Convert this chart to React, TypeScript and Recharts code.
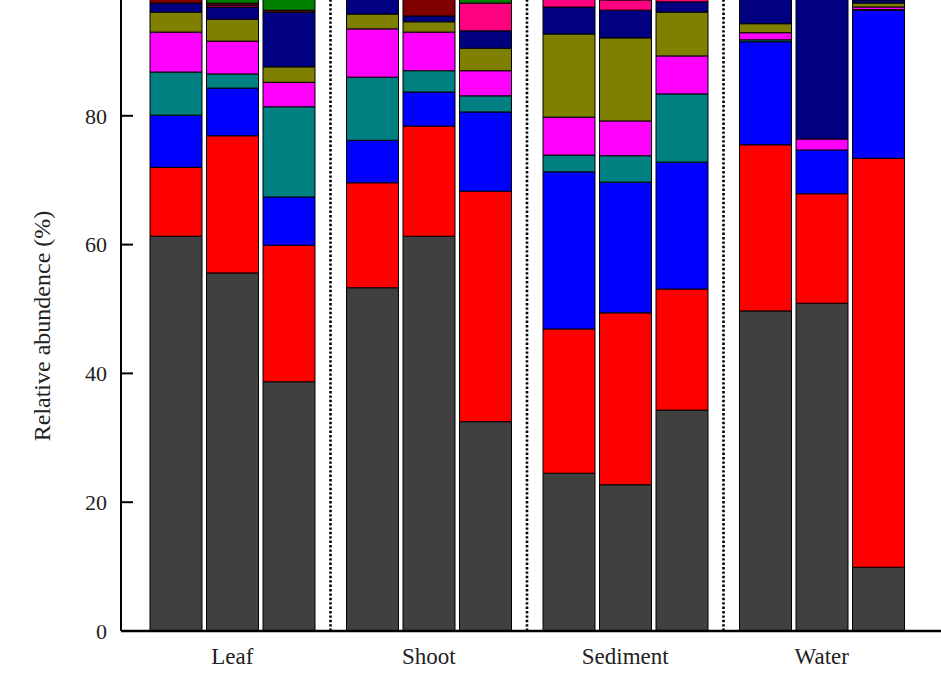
import React from 'react';
import { BarChart, Bar, XAxis, YAxis, ReferenceLine } from 'recharts';

const categories = ['Leaf', 'Shoot', 'Sediment', 'Water'];
const replicates = ['r1', 'r2', 'r3'];
const yTicks = [0, 20, 40, 60, 80];
const yLabel = 'Relative abundence (%)';
const separators = ['Shoot', 'Sediment', 'Water'];

// values per bar, order: Leaf 1-3, Shoot 1-3, Sediment 1-3, Water 1-3
const taxon01 = [61.3, 55.6, 38.7, 53.3, 61.3, 32.5, 24.5, 22.7, 34.3, 49.7, 50.9, 9.9];
const taxon02 = [10.7, 21.3, 21.2, 16.3, 17.1, 35.8, 22.4, 26.7, 18.8, 25.8, 17.0, 63.5];
const taxon03 = [8.1, 7.4, 7.5, 6.6, 5.3, 12.3, 24.4, 20.3, 19.7, 16.0, 6.8, 23.0];
const taxon04 = [6.7, 2.2, 14.0, 9.8, 3.3, 2.5, 2.6, 4.1, 10.6, 0.3, 0, 0.1];
const taxon05 = [6.2, 5.1, 3.8, 7.5, 6.0, 3.9, 5.9, 5.4, 5.9, 1.1, 1.7, 0.4];
const taxon06 = [3.1, 3.4, 2.4, 2.3, 1.6, 3.5, 12.9, 12.9, 6.8, 1.4, 0, 0.6];
const taxon07 = [1.4, 1.9, 8.5, 2.6, 0.9, 2.7, 4.2, 4.3, 1.6, 5.7, 23.6, 0.5];
const taxon08 = [0, 0.3, 0, 0, 0, 4.3, 1.5, 1.6, 0.4, 0, 0, 0.3];
const taxon09 = [0.6, 0.3, 0.3, 0, 3.5, 0, 0.5, 0.5, 0.3, 0, 0, 0.3];
const taxon10 = [0.5, 1.5, 1.8, 0.5, 0.5, 1.0, 0.3, 0.3, 0.5, 0, 0, 0.5];
const taxon11 = [1.4, 1.0, 1.8, 1.1, 0.5, 1.5, 0.8, 1.2, 1.1, 0, 0, 0.9];

const taxonValues = [taxon01, taxon02, taxon03, taxon04, taxon05, taxon06, taxon07, taxon08, taxon09, taxon10, taxon11];
const taxonColors = ['#404040', '#FF0000', '#0000FF', '#008080', '#FF00FF', '#808000', '#000080', '#FF0080', '#800000', '#008000', '#C0C0C0'];

const rows = categories.map((category, ci) => {
  const row: Record<string, any> = { category };
  taxonValues.forEach((vals, ti) => {
    replicates.forEach((r, ri) => {
      row[`t${ti}_${r}`] = vals[ci * 3 + ri];
    });
  });
  return row;
});

const FONT = 'Liberation Serif, Times New Roman, serif';

const YTick = (props: any) => {
  const { x, y, payload } = props;
  return (
    <g>
      <line x1={x + 14} x2={x + 26} y1={y} y2={y} stroke="#000" strokeWidth={2} />
      <text x={x} y={y} dy="0.35em" textAnchor="end" fontSize={22} fill="#222" fontFamily={FONT}>
        {payload.value}
      </text>
    </g>
  );
};

const YLabel = (props: any) => {
  const vb = props.viewBox || { x: 0, y: 27, width: 121, height: 644 };
  const cx = vb.x + 42;
  const cy = vb.y + vb.height / 2 + 17;
  return (
    <text
      x={cx}
      y={cy}
      transform={`rotate(-90, ${cx}, ${cy})`}
      textAnchor="middle"
      dominantBaseline="central"
      fontSize={24}
      fill="#222"
      fontFamily={FONT}
    >
      {yLabel}
    </text>
  );
};

export default function App() {
  return (
    <div style={{ position: 'fixed', left: 0, top: 0, width: 941, height: 675, overflow: 'hidden', background: '#fff' }}>
      <div style={{ position: 'absolute', left: 0, top: -40 }}>
        <BarChart
          width={941}
          height={715}
          data={rows}
          margin={{ top: 27, right: 0, bottom: 0, left: 0 }}
          barSize={52}
          barGap={4.5}
        >
          <XAxis
            dataKey="category"
            height={44}
            padding={{ left: 13, right: 21 }}
            tickLine={false}
            tickSize={0}
            tickMargin={17}
            interval={0}
            axisLine={{ stroke: '#000', strokeWidth: 2.5 }}
            tick={{ fontSize: 23, fill: '#222', fontFamily: FONT }}
          />
          <YAxis
            domain={[0, 100]}
            ticks={yTicks}
            width={121}
            tickSize={0}
            tickMargin={14}
            tickLine={false}
            axisLine={{ stroke: '#000', strokeWidth: 2 }}
            tick={<YTick />}
            label={<YLabel />}
            allowDataOverflow
          />
          {replicates.map((r) =>
            taxonValues.map((_, ti) => (
              <Bar
                key={`t${ti}_${r}`}
                dataKey={`t${ti}_${r}`}
                stackId={r}
                fill={taxonColors[ti]}
                stroke="#000"
                strokeWidth={1}
                isAnimationActive={false}
              />
            ))
          )}
          {separators.map((s) => (
            <ReferenceLine
              key={s}
              x={s}
              position="start"
              stroke="#000"
              strokeWidth={2.6}
              strokeDasharray="2.4 2"
            />
          ))}
        </BarChart>
      </div>
    </div>
  );
}
